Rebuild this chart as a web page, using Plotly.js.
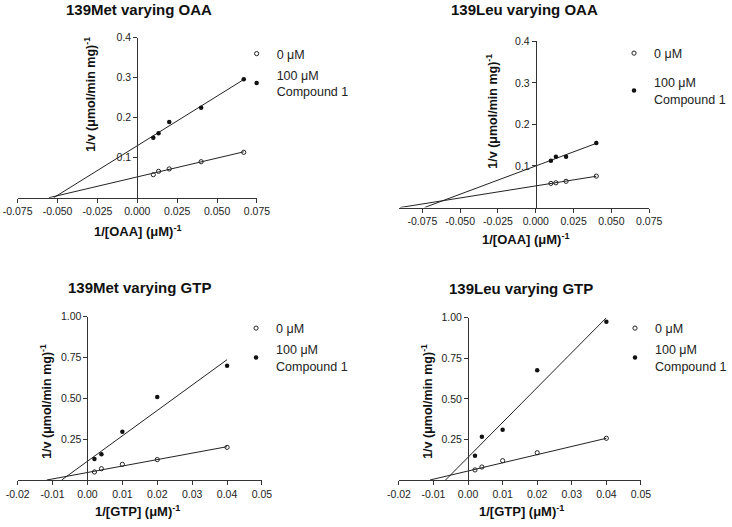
<!DOCTYPE html>
<html>
<head>
<meta charset="utf-8">
<script src="https://cdn.plot.ly/plotly-3.0.1.min.js"></script>
<style>html,body{margin:0;padding:0;background:#fff;}#chart{width:732px;height:527px;}</style>
</head>
<body>
<div id="chart"></div>
<script>
// ---------- DATA ----------
const panelTitles = ['139Met varying OAA', '139Leu varying OAA', '139Met varying GTP', '139Leu varying GTP'];
const xTitles = ['1/[OAA] (\u03bcM)<sup>-1</sup>', '1/[OAA] (\u03bcM)<sup>-1</sup>', '1/[GTP] (\u03bcM)<sup>-1</sup>', '1/[GTP] (\u03bcM)<sup>-1</sup>'];
const yTitle = '1/v (\u03bcmol/min mg)<sup>-1</sup>';
const seriesNames = ['0 \u03bcM', '100 \u03bcM<br>Compound 1'];

const oaaX_met = [0.01, 0.0133, 0.02, 0.04, 0.0667];
const met_oaa_0 = [0.0575, 0.066, 0.072, 0.09, 0.1135];
const met_oaa_100 = [0.15, 0.161, 0.189, 0.225, 0.296];

const oaaX_leu = [0.01, 0.0133, 0.02, 0.04];
const leu_oaa_0 = [0.058, 0.0595, 0.063, 0.0755];
const leu_oaa_100 = [0.1125, 0.122, 0.122, 0.155];

const gtpX = [0.002, 0.004, 0.01, 0.02, 0.04];
const met_gtp_0 = [0.049, 0.069, 0.096, 0.125, 0.20];
const met_gtp_100 = [0.129, 0.158, 0.296, 0.509, 0.70];
const leu_gtp_0 = [0.062, 0.08, 0.119, 0.168, 0.257];
const leu_gtp_100 = [0.15, 0.267, 0.31, 0.676, 0.975];

// fitted lines (slope, intercept)
const fitSlope0 = [0.94, 0.58, 3.95, 5.04];
const fitIntercept0 = [0.052, 0.052, 0.046, 0.0555];
const fitSlope100 = [2.48, 1.36, 15.55, 21.5];
const fitIntercept100 = [0.13, 0.10, 0.115, 0.14];

const oaaXTicks = [-0.075, -0.05, -0.025, 0, 0.025, 0.05, 0.075];
const oaaXTickText = ['-0.075', '-0.050', '-0.025', '0.000', '0.025', '0.050', '0.075'];
const oaaYTicks = [0.1, 0.2, 0.3, 0.4];
const oaaYTickText = ['0.1', '0.2', '0.3', '0.4'];
const gtpXTicks = [-0.02, -0.01, 0, 0.01, 0.02, 0.03, 0.04, 0.05];
const gtpXTickText = ['-0.02', '-0.01', '0.00', '0.01', '0.02', '0.03', '0.04', '0.05'];
const gtpYTicks = [0.25, 0.5, 0.75, 1.0];
const gtpYTickText = ['0.25', '0.50', '0.75', '1.00'];

// ---------- LAYOUT GEOMETRY ----------
const W = 732, H = 527;
const FONT = 'Liberation Sans, Arial, Helvetica, sans-serif';
const INK = '#222';
const panels = [
  {xs: oaaX_met, y0: met_oaa_0, y1: met_oaa_100, xr: [-0.075, 0.075], xpx: [17.7, 257.7], yr: [0, 0.4], ypx: [197.7, 37.7],
   xt: oaaXTicks, xtt: oaaXTickText, yt: oaaYTicks, ytt: oaaYTickText,
   title: [139, 9], ytitle: [90, 94], xtitle: [138, 231], leg: [257.3, 52], gap: 2},
  {xs: oaaX_leu, y0: leu_oaa_0, y1: leu_oaa_100, xr: [-0.0905, 0.075], xpx: [400, 651], yr: [0, 0.4], ypx: [207.5, 41.3],
   xt: oaaXTicks, xtt: oaaXTickText, yt: oaaYTicks, ytt: oaaYTickText,
   title: [526, 10], ytitle: [493, 111], xtitle: [527, 239], leg: [635.7, 51.5], gap: 10},
  {xs: gtpX, y0: met_gtp_0, y1: met_gtp_100, xr: [-0.02, 0.05], xpx: [17.7, 262.7], yr: [0, 1.0], ypx: [480, 316.7],
   xt: gtpXTicks, xtt: gtpXTickText, yt: gtpYTicks, ytt: gtpYTickText,
   title: [140, 287], ytitle: [46, 401], xtitle: [138, 511], leg: [256.7, 326.5], gap: 2},
  {xs: gtpX, y0: leu_gtp_0, y1: leu_gtp_100, xr: [-0.02, 0.05], xpx: [400, 642.7], yr: [0, 1.0], ypx: [480, 317.7],
   xt: gtpXTicks, xtt: gtpXTickText, yt: gtpYTicks, ytt: gtpYTickText,
   title: [522, 288], ytitle: [428, 401], xtitle: [523, 511], leg: [636.7, 326.5], gap: 2}
];

const traces = [];
const layout = {
  width: W, height: H,
  margin: {l: 0, r: 0, t: 0, b: 0},
  paper_bgcolor: '#fff', plot_bgcolor: 'rgba(0,0,0,0)',
  font: {family: FONT, color: INK},
  annotations: [],
  showlegend: true
};

panels.forEach((p, i) => {
  const k = i === 0 ? '' : String(i + 1);
  const xa = 'x' + k, ya = 'y' + k;
  const legName = 'legend' + k;
  const xd = [p.xpx[0] / W, p.xpx[1] / W];
  const yd = [1 - p.ypx[0] / H, 1 - p.ypx[1] / H];
  const yPos = xd[0] + (0 - p.xr[0]) / (p.xr[1] - p.xr[0]) * (xd[1] - xd[0]);

  layout['xaxis' + k] = {
    domain: xd, range: p.xr, anchor: ya, showgrid: false, zeroline: false,
    showline: true, linecolor: '#333', linewidth: 1,
    ticks: 'outside', ticklen: 4, tickwidth: 1, tickcolor: '#333',
    tickvals: p.xt, ticktext: p.xtt, tickfont: {size: 10.5, color: INK, family: FONT}
  };
  layout['yaxis' + k] = {
    domain: yd, range: p.yr, anchor: 'free', position: yPos, showgrid: false, zeroline: false,
    showline: true, linecolor: '#333', linewidth: 1,
    ticks: 'outside', ticklen: 4, tickwidth: 1, tickcolor: '#333',
    tickvals: p.yt, ticktext: p.ytt, tickfont: {size: 10.5, color: INK, family: FONT}
  };

  // fitted lines
  const fits = [[fitSlope0[i], fitIntercept0[i]], [fitSlope100[i], fitIntercept100[i]]];
  const xmax = Math.max.apply(null, p.xs);
  fits.forEach(f => {
    const xi = -f[1] / f[0];
    traces.push({
      type: 'scatter', mode: 'lines', xaxis: xa, yaxis: ya, showlegend: false,
      x: [xi, xmax], y: [f[0] * xi + f[1], f[0] * xmax + f[1]],
      line: {color: INK, width: 1}, hoverinfo: 'skip'
    });
  });

  // data points
  traces.push({
    type: 'scatter', mode: 'markers', xaxis: xa, yaxis: ya, name: seriesNames[0], legend: legName, legendgroup: 'a' + i,
    x: p.xs, y: p.y0, marker: {symbol: 'circle-open', size: 4.2, color: INK, line: {width: 1, color: INK}}, cliponaxis: false
  });
  traces.push({
    type: 'scatter', mode: 'markers', xaxis: xa, yaxis: ya, name: seriesNames[1], legend: legName, legendgroup: 'b' + i,
    x: p.xs, y: p.y1, marker: {symbol: 'circle', size: 4.5, color: '#111'}, cliponaxis: false
  });

  layout[legName] = {
    x: (p.leg[0] - 20) / W, y: 1 - (p.leg[1] - 13) / H, xanchor: 'left', yanchor: 'top',
    bgcolor: 'rgba(0,0,0,0)', borderwidth: 0, itemwidth: 30, tracegroupgap: p.gap,
    font: {size: 12.5, color: INK, family: FONT}
  };

  // titles
  layout.annotations.push({
    xref: 'paper', yref: 'paper', x: p.title[0] / W, y: 1 - p.title[1] / H, xanchor: 'center', yanchor: 'middle',
    text: '<b>' + panelTitles[i] + '</b>', showarrow: false, font: {size: 15, color: '#111', family: FONT}
  });
  layout.annotations.push({
    xref: 'paper', yref: 'paper', x: p.xtitle[0] / W, y: 1 - p.xtitle[1] / H, xanchor: 'center', yanchor: 'middle',
    text: '<b>' + xTitles[i] + '</b>', showarrow: false, font: {size: 13, color: '#111', family: FONT}
  });
  layout.annotations.push({
    xref: 'paper', yref: 'paper', x: p.ytitle[0] / W, y: 1 - p.ytitle[1] / H, xanchor: 'center', yanchor: 'middle',
    textangle: -90, text: '<b>' + yTitle + '</b>', showarrow: false, font: {size: 12.5, color: '#111', family: FONT}
  });
});

Plotly.newPlot('chart', traces, layout, {displayModeBar: false, staticPlot: true});
</script>
</body>
</html>
